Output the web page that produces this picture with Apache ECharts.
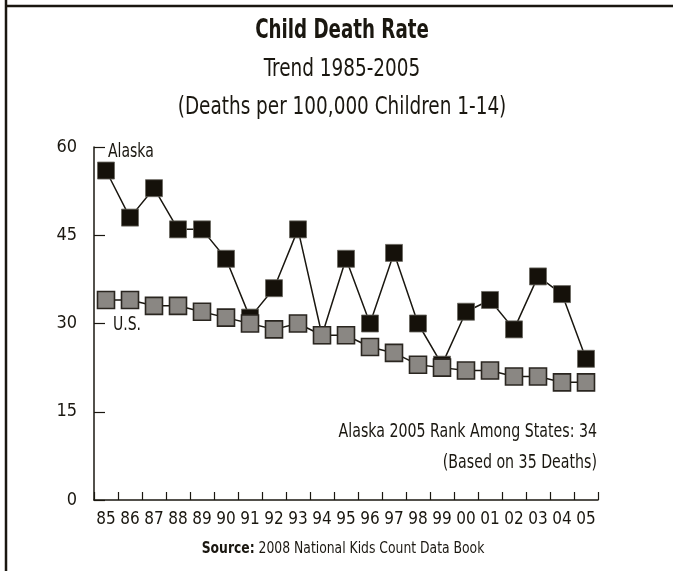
<!DOCTYPE html>
<html>
<head>
<meta charset="utf-8">
<script src="https://cdn.jsdelivr.net/npm/echarts@6/dist/echarts.min.js"></script>
<style>
html,body{margin:0;padding:0;background:#fff;}
#main{width:673px;height:571px;}
</style>
</head>
<body>
<div id="main"></div>
<script>
const years = ['85','86','87','88','89','90','91','92','93','94','95','96','97','98','99','00','01','02','03','04','05'];
const alaska = [56,48,53,46,46,41,31,36,46,28,41,30,42,30,23,32,34,29,38,35,24];
const us = [34,34,33,33,32,31,30,29,30,28,28,26,25,23,22.5,22,22,21,21,20,20];
const yTicks = [0,15,30,45,60];

const FONT = '"DejaVu Sans Condensed", "Liberation Sans Narrow", sans-serif';
const INK = '#1a1710';

function txt(text, x, y, size, align, sx, bold) {
  return {
    type: 'text', x: x, y: y, scaleX: sx, scaleY: 1,
    style: {
      text: text,
      font: (bold ? 'bold ' : '') + size + 'px ' + FONT,
      fill: INK,
      align: align, textAlign: align,
      verticalAlign: 'middle', textVerticalAlign: 'middle'
    }
  };
}

const chart = echarts.init(document.getElementById('main'));
chart.setOption({
  animation: false,
  backgroundColor: '#fff',
  grid: {left: 94, right: 75, top: 147, bottom: 71},
  xAxis: {
    type: 'category',
    data: years,
    boundaryGap: true,
    axisLine: {show: true, lineStyle: {color: INK, width: 1.5}},
    axisTick: {show: true, inside: true, length: 8, interval: 0, alignWithLabel: false, lineStyle: {color: INK, width: 1.2}},
    axisLabel: {fontFamily: FONT, fontSize: 17, color: INK, margin: 11, interval: 0}
  },
  yAxis: {
    type: 'value',
    min: 0, max: 60, interval: 15,
    axisLine: {show: true, lineStyle: {color: INK, width: 1.5}},
    axisTick: {show: true, inside: true, length: 11, lineStyle: {color: INK, width: 1.2}},
    axisLabel: {fontFamily: FONT, fontSize: 18, color: INK, margin: 17,
      formatter: v => yTicks.includes(v) ? String(v) : ''},
    splitLine: {show: false}
  },
  series: [
    {
      name: 'Alaska', type: 'line', data: alaska,
      symbol: 'rect', symbolSize: 17, showAllSymbol: true,
      lineStyle: {color: INK, width: 1.5},
      itemStyle: {color: '#15110a', borderColor: '#6a675f', borderWidth: 0.8},
      z: 2
    },
    {
      name: 'U.S.', type: 'line', data: us,
      symbol: 'rect', symbolSize: 17, showAllSymbol: true,
      lineStyle: {color: INK, width: 1.5},
      itemStyle: {color: '#8a8783', borderColor: '#2a2620', borderWidth: 1.6},
      z: 3
    }
  ],
  graphic: [
    {type: 'line', shape: {x1: 6, y1: 0, x2: 6, y2: 571}, style: {stroke: INK, lineWidth: 2.5}},
    {type: 'line', shape: {x1: 5, y1: 6, x2: 673, y2: 6}, style: {stroke: INK, lineWidth: 2.5}},
    txt('Child Death Rate', 342, 31, 26, 'center', 0.78, true),
    txt('Trend 1985-2005', 342, 69, 25, 'center', 0.82, false),
    txt('(Deaths per 100,000 Children 1-14)', 342, 107, 25, 'center', 0.82, false),
    txt('Alaska', 108, 152, 19, 'left', 0.82, false),
    txt('U.S.', 113, 325, 19, 'left', 0.82, false),
    txt('Alaska 2005 Rank Among States: 34', 597, 432, 19, 'right', 0.83, false),
    txt('(Based on 35 Deaths)', 597, 463, 19, 'right', 0.83, false),
    {type: 'text', x: 343, y: 549, scaleX: 0.86,
      style: {
        text: '{b|Source:} 2008 National Kids Count Data Book',
        rich: {b: {font: 'bold 16px ' + FONT, fill: INK}},
        font: '16px ' + FONT, fill: INK,
        align: 'center', textAlign: 'center', verticalAlign: 'middle', textVerticalAlign: 'middle'
      }}
  ]
});
</script>
</body>
</html>
